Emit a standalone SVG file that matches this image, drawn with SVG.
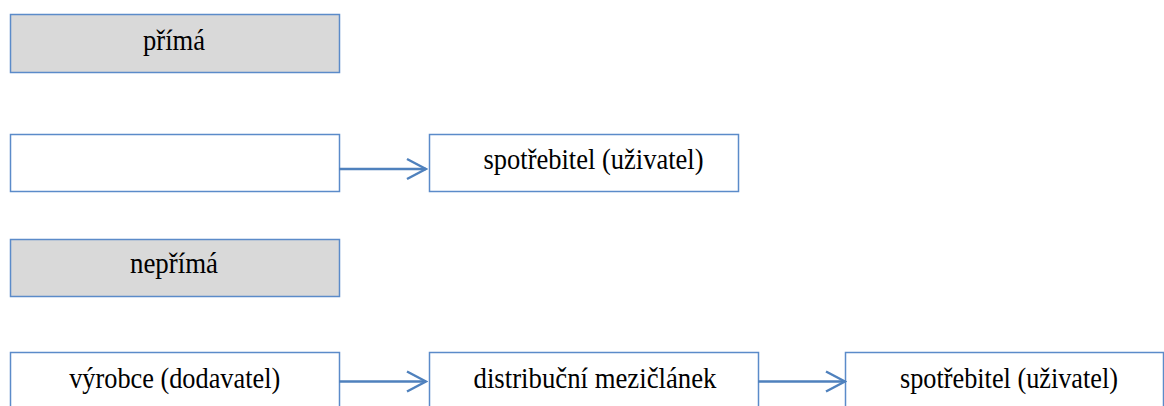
<svg xmlns="http://www.w3.org/2000/svg" width="1164" height="406" viewBox="0 0 1164 406">
<style>
.box{fill:#ffffff;stroke:#5b8bc9;stroke-width:1.5}
.grey{fill:#d9d9d9;stroke:#5b8bc9;stroke-width:1.5}
text{font-family:'Liberation Serif','Times New Roman',serif;font-size:30px;fill:#000;text-anchor:middle}
.c{stroke:#4f81bd;stroke-width:2.5;fill:none}
</style>
<defs>
<marker id="ah" markerWidth="22" markerHeight="24" refX="20" refY="12" orient="auto" markerUnits="userSpaceOnUse">
<path d="M1,2 L20,12 L1,22" fill="none" stroke="#4f81bd" stroke-width="2.5"/>
</marker>
</defs>
<rect width="1164" height="406" fill="#ffffff"/>
<g id="n-prima"><rect class="grey" x="10.5" y="14.5" width="329" height="58"/><text x="174" y="50" textLength="62" lengthAdjust="spacingAndGlyphs">přímá</text></g>
<g id="n-empty"><rect class="box" x="10.5" y="134.5" width="329" height="57"/></g>
<g id="n-spotrebitel1"><rect class="box" x="429.5" y="134.5" width="309" height="57"/><text x="593.5" y="169" textLength="220" lengthAdjust="spacingAndGlyphs">spotřebitel (uživatel)</text></g>
<g id="n-neprima"><rect class="grey" x="10.5" y="239.5" width="329" height="57"/><text x="174" y="272.5" textLength="88" lengthAdjust="spacingAndGlyphs">nepřímá</text></g>
<g id="n-vyrobce"><rect class="box" x="10.5" y="352.5" width="329" height="60"/><text x="174.7" y="388" textLength="211" lengthAdjust="spacingAndGlyphs">výrobce (dodavatel)</text></g>
<g id="n-distribucni"><rect class="box" x="429.5" y="352.5" width="329" height="60"/><text x="595" y="388" textLength="243" lengthAdjust="spacingAndGlyphs">distribuční mezičlánek</text></g>
<g id="n-spotrebitel2"><rect class="box" x="845.5" y="352.5" width="318" height="60"/><text x="1009" y="388" textLength="218" lengthAdjust="spacingAndGlyphs">spotřebitel (uživatel)</text></g>
<g id="connectors">
<line class="c" x1="339" y1="169" x2="426" y2="169" marker-end="url(#ah)"/>
<line class="c" x1="339" y1="381.5" x2="426" y2="381.5" marker-end="url(#ah)"/>
<line class="c" x1="758" y1="381.5" x2="845" y2="381.5" marker-end="url(#ah)"/>
</g>
</svg>
